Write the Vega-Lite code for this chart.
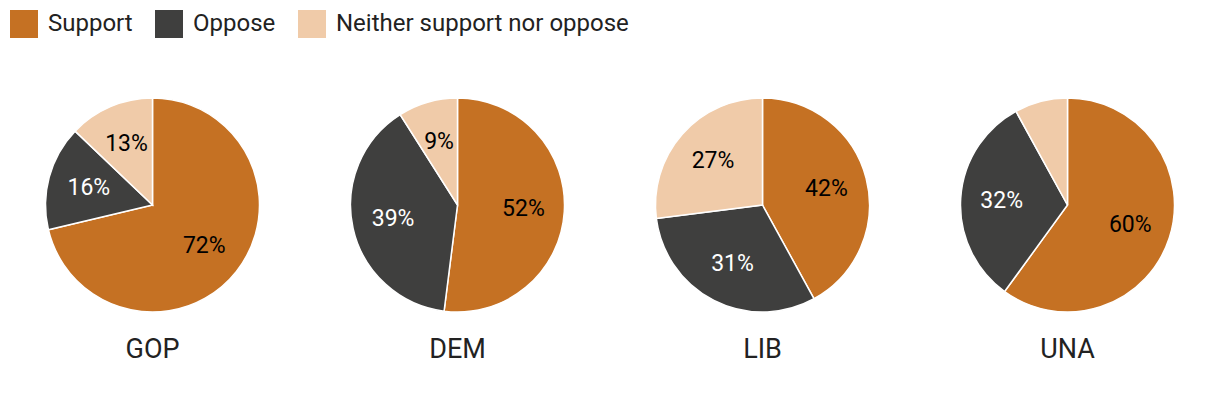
{
  "$schema": "https://vega.github.io/schema/vega-lite/v6.json",
  "padding": 0,
  "background": "white",
  "data": {"values": [
    {"party": "GOP", "response": "Support", "rank": 1, "pct": 72, "label": "72%"},
    {"party": "GOP", "response": "Oppose", "rank": 2, "pct": 16, "label": "16%"},
    {"party": "GOP", "response": "Neither support nor oppose", "rank": 3, "pct": 13, "label": "13%"},
    {"party": "DEM", "response": "Support", "rank": 1, "pct": 52, "label": "52%"},
    {"party": "DEM", "response": "Oppose", "rank": 2, "pct": 39, "label": "39%"},
    {"party": "DEM", "response": "Neither support nor oppose", "rank": 3, "pct": 9, "label": "9%"},
    {"party": "LIB", "response": "Support", "rank": 1, "pct": 42, "label": "42%"},
    {"party": "LIB", "response": "Oppose", "rank": 2, "pct": 31, "label": "31%"},
    {"party": "LIB", "response": "Neither support nor oppose", "rank": 3, "pct": 27, "label": "27%"},
    {"party": "UNA", "response": "Support", "rank": 1, "pct": 60, "label": "60%"},
    {"party": "UNA", "response": "Oppose", "rank": 2, "pct": 32, "label": "32%"},
    {"party": "UNA", "response": "Neither support nor oppose", "rank": 3, "pct": 8, "label": ""}
  ]},
  "facet": {
    "column": {
      "field": "party",
      "type": "nominal",
      "sort": ["GOP", "DEM", "LIB", "UNA"],
      "title": null,
      "header": {"labelOrient": "bottom", "labelFontSize": 27, "labelFont": "Roboto", "labelColor": "#222222", "labelPadding": 22}
    }
  },
  "spacing": 0,
  "spec": {
    "width": 305,
    "height": 216,
    "encoding": {
      "theta": {"field": "pct", "type": "quantitative", "stack": true},
      "order": {"field": "rank", "type": "ordinal"}
    },
    "layer": [
      {
        "mark": {"type": "arc", "outerRadius": 107, "stroke": "white", "strokeWidth": 1.5},
        "encoding": {
          "color": {
            "field": "response",
            "type": "nominal",
            "scale": {"domain": ["Support", "Oppose", "Neither support nor oppose"], "range": ["#c57123", "#3f3f3e", "#f0cba9"]},
            "legend": {
              "title": null,
              "orient": "top",
              "direction": "horizontal",
              "symbolType": "square",
              "symbolSize": 784,
              "symbolStrokeWidth": 0,
              "labelFontSize": 24,
              "labelFont": "Roboto",
              "labelColor": "#222222",
              "labelLimit": 0,
              "labelOffset": 10,
              "columnPadding": 22,
              "padding": 10,
              "offset": 47
            }
          }
        }
      },
      {
        "mark": {"type": "text", "radius": 66, "fontSize": 23, "font": "Roboto"},
        "encoding": {
          "text": {"field": "label", "type": "nominal"},
          "color": {
            "condition": {"test": "datum.response === 'Oppose'", "value": "white"},
            "value": "black"
          }
        }
      }
    ]
  },
  "config": {"view": {"stroke": null}}
}
